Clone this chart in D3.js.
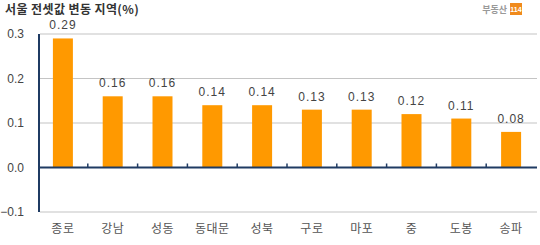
<!DOCTYPE html>
<html>
<head>
<meta charset="utf-8">
<script src="https://cdn.jsdelivr.net/npm/d3@7"></script>
<style>
  body { margin: 0; background: #fff; }
  text { font-family: "Noto Sans CJK KR", "Noto Sans", sans-serif; }
  text.num { font-family: "Liberation Sans", Arial, sans-serif; }
</style>
</head>
<body>
<div id="chart"></div>
<script>
// 서울 전셋갑 변동 지역 - bar chart
var categories = ["종로", "강남", "성동", "동대문", "성북", "구로", "마포", "중", "도봉", "송파"];
var values = [0.29, 0.16, 0.16, 0.14, 0.14, 0.13, 0.13, 0.12, 0.11, 0.08];
var yTicks = [-0.1, 0.0, 0.1, 0.2, 0.3];

var width = 540, height = 245;

var svg = d3.select("#chart").append("svg")
    .attr("width", width)
    .attr("height", height);

var x = d3.scaleBand()
    .domain(categories)
    .range([38, 536]);

var y = d3.scaleLinear()
    .domain([-0.1, 0.3])
    .range([212, 34]);

// title
svg.append("text")
    .attr("x", 5)
    .attr("y", 14)
    .style("font-size", "12px")
    .style("font-weight", "bold")
    .style("letter-spacing", "0.4px")
    .style("fill", "#333")
    .text("서울 전셋값 변동 지역(%)");

// logo
svg.append("text")
    .attr("x", 507)
    .attr("y", 13)
    .attr("text-anchor", "end")
    .style("font-size", "9px")
    .style("font-weight", "bold")
    .style("fill", "#999")
    .text("부동산");
svg.append("rect")
    .attr("x", 510)
    .attr("y", 3)
    .attr("width", 12)
    .attr("height", 12)
    .style("fill", "#f08a1c");
svg.append("text")
    .attr("class", "num")
    .attr("x", 516)
    .attr("y", 12)
    .attr("text-anchor", "middle")
    .style("font-size", "7px")
    .style("font-weight", "bold")
    .style("fill", "#fff")
    .text("114");

// gridlines
svg.selectAll(".grid")
    .data(yTicks.filter(d => d !== 0))
    .enter()
    .append("line")
    .attr("x1", 40)
    .attr("x2", 537)
    .attr("y1", d => y(d))
    .attr("y2", d => y(d))
    .style("stroke", "#c4c4c4")
    .style("stroke-width", 1.2);

// y tick labels
svg.selectAll(".ylab")
    .data(yTicks)
    .enter()
    .append("text")
    .attr("class", "num")
    .attr("x", 24)
    .attr("y", d => y(d) + 4)
    .attr("text-anchor", "end")
    .style("font-size", "12px")
    .style("fill", "#444")
    .text(d => d3.format(".1f")(d));

// bars
svg.selectAll(".bar")
    .data(values)
    .enter()
    .append("rect")
    .attr("x", (d, i) => x(categories[i]) + x.bandwidth() / 2 - 10)
    .attr("y", d => y(d))
    .attr("width", 20)
    .attr("height", d => y(0) - y(d))
    .style("fill", "#ff9900");

// value labels
svg.selectAll(".val")
    .data(values)
    .enter()
    .append("text")
    .attr("class", "num")
    .attr("x", (d, i) => x(categories[i]) + x.bandwidth() / 2)
    .attr("y", d => y(d) - 9)
    .attr("text-anchor", "middle")
    .style("font-size", "12px")
    .style("letter-spacing", "1px")
    .style("fill", "#444")
    .text(d => d3.format(".2f")(d));

// axes
var axisColor = "#1f3b63";
svg.append("line")
    .attr("x1", 39).attr("x2", 39)
    .attr("y1", y(0.3)).attr("y2", y(-0.1))
    .style("stroke", axisColor)
    .style("stroke-width", 2);
svg.append("line")
    .attr("x1", 39).attr("x2", 537)
    .attr("y1", y(0)).attr("y2", y(0))
    .style("stroke", axisColor)
    .style("stroke-width", 2);

// small ticks between categories
svg.selectAll(".xtick")
    .data(categories.slice(1))
    .enter()
    .append("line")
    .attr("x1", d => x(d))
    .attr("x2", d => x(d))
    .attr("y1", y(0) - 4)
    .attr("y2", y(0))
    .style("stroke", axisColor)
    .style("stroke-width", 1.5);

// category labels
svg.selectAll(".cat")
    .data(categories)
    .enter()
    .append("text")
    .attr("x", d => x(d) + x.bandwidth() / 2)
    .attr("y", 233)
    .attr("text-anchor", "middle")
    .style("font-size", "12px")
    .style("letter-spacing", "0.5px")
    .style("fill", "#555")
    .text(d => d);
</script>
</body>
</html>
